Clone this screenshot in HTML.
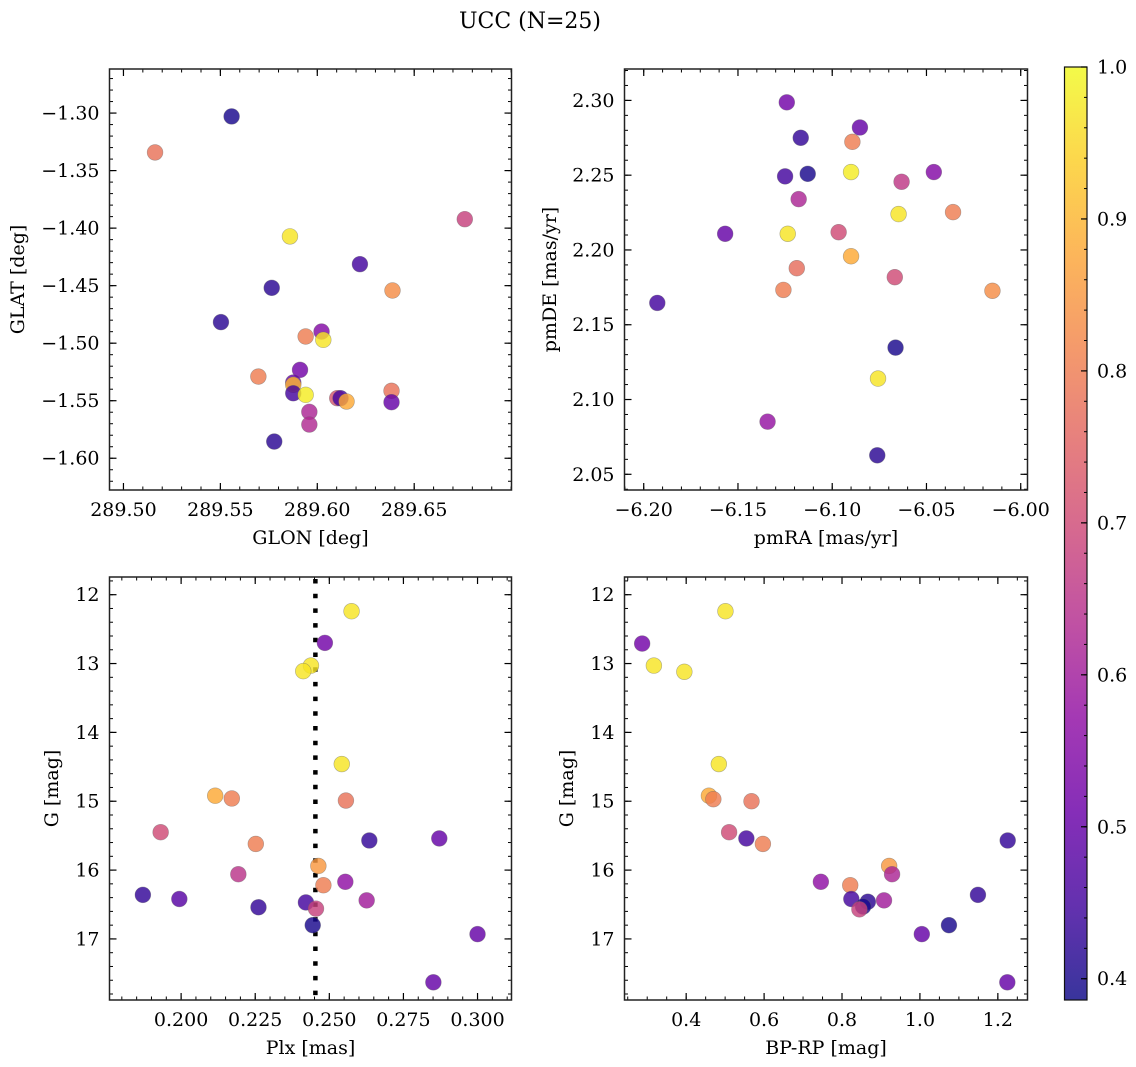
<!DOCTYPE html>
<html><head><meta charset="utf-8"><style>
html,body{margin:0;padding:0;background:#fff;}
svg{display:block;font-family:"DejaVu Serif","Liberation Serif",serif;}
</style></head><body>
<svg id="fig" width="1136" height="1067" viewBox="0 0 1136 1067" xmlns="http://www.w3.org/2000/svg">
<text x="530" y="28" font-size="22" text-anchor="middle">UCC (N=25)</text>
</svg>
<script>
// ---- data ----
const glon = [289.5558,289.5163,289.6761,289.5859,289.6220,289.5765,289.6388,289.5503,289.6022,289.5940,289.6031,289.5911,289.5696,289.5876,289.5876,289.5876,289.5940,289.6103,289.6120,289.6151,289.6383,289.6383,289.5959,289.5959,289.5778];
const glat = [-1.3029,-1.3342,-1.3922,-1.4072,-1.4313,-1.4519,-1.4542,-1.4817,-1.4899,-1.4942,-1.4971,-1.5232,-1.5290,-1.5342,-1.5362,-1.5435,-1.5449,-1.5478,-1.5478,-1.5507,-1.5414,-1.5513,-1.5597,-1.5707,-1.5855];
const probP1 = [0.40,0.78,0.68,0.97,0.45,0.42,0.83,0.42,0.55,0.80,0.97,0.52,0.80,0.50,0.90,0.45,0.98,0.72,0.45,0.88,0.78,0.50,0.62,0.63,0.42];

const pmra = [-6.1241,-6.0853,-6.1167,-6.0893,-6.1250,-6.1130,-6.0900,-6.0461,-6.0632,-6.1178,-6.0648,-6.0359,-6.1568,-6.1236,-6.0966,-6.0900,-6.1188,-6.0668,-6.1259,-6.0150,-6.1928,-6.0664,-6.0757,-6.1343,-6.0761];
const pmde = [2.2987,2.2819,2.2750,2.2723,2.2492,2.2509,2.2521,2.2521,2.2456,2.2340,2.2240,2.2253,2.2108,2.2108,2.2119,2.1958,2.1878,2.1818,2.1733,2.1727,2.1646,2.1347,2.1140,2.0852,2.0627];
const probP2 = [0.52,0.50,0.43,0.80,0.45,0.40,0.98,0.55,0.66,0.62,0.97,0.80,0.50,0.97,0.70,0.88,0.77,0.70,0.80,0.83,0.45,0.40,0.97,0.58,0.42];

const plx = [0.2575,0.2485,0.2438,0.2412,0.2542,0.2115,0.2171,0.2556,0.1931,0.2252,0.2635,0.2871,0.2463,0.2193,0.2480,0.2554,0.1871,0.1994,0.2626,0.2421,0.2261,0.2455,0.2444,0.3000,0.2851];
const gmagP3 = [12.24,12.70,13.03,13.11,14.46,14.92,14.96,14.99,15.45,15.62,15.57,15.54,15.94,16.06,16.22,16.17,16.36,16.42,16.44,16.47,16.54,16.56,16.80,16.93,17.63];
const probP3 = [0.97,0.52,0.97,0.97,0.97,0.88,0.80,0.78,0.70,0.80,0.43,0.50,0.85,0.65,0.80,0.57,0.43,0.48,0.60,0.45,0.43,0.68,0.40,0.50,0.50];
const plxMedian = [0.2453];

const bprp = [0.5008,0.2870,0.3171,0.3953,0.4838,0.4584,0.4697,0.5677,0.5102,0.5545,0.5969,1.2253,0.9210,0.9285,0.7457,0.8211,0.8239,0.8663,0.8541,0.8447,0.9078,1.1489,1.0745,1.0048,1.2243];
const gmagP4 = [12.24,12.71,13.03,13.12,14.46,14.92,14.97,15.00,15.45,15.54,15.62,15.57,15.94,16.06,16.17,16.22,16.42,16.46,16.53,16.57,16.44,16.36,16.80,16.93,17.63];
const probP4 = [0.97,0.52,0.97,0.97,0.97,0.88,0.80,0.78,0.70,0.45,0.80,0.43,0.85,0.62,0.57,0.80,0.45,0.42,0.40,0.68,0.60,0.43,0.40,0.50,0.50];

const p1XTicks = [289.50,289.55,289.60,289.65];
const p1XLabels = ["289.50","289.55","289.60","289.65"];
const p1YTicks = [-1.30,-1.35,-1.40,-1.45,-1.50,-1.55,-1.60];
const p1YLabels = ["−1.30","−1.35","−1.40","−1.45","−1.50","−1.55","−1.60"];
const p2XTicks = [-6.20,-6.15,-6.10,-6.05,-6.00];
const p2XLabels = ["−6.20","−6.15","−6.10","−6.05","−6.00"];
const p2YTicks = [2.30,2.25,2.20,2.15,2.10,2.05];
const p2YLabels = ["2.30","2.25","2.20","2.15","2.10","2.05"];
const p3XTicks = [0.200,0.225,0.250,0.275,0.300];
const p3XLabels = ["0.200","0.225","0.250","0.275","0.300"];
const gTicks = [12,13,14,15,16,17];
const gLabels = ["12","13","14","15","16","17"];
const p4XTicks = [0.4,0.6,0.8,1.0,1.2];
const p4XLabels = ["0.4","0.6","0.8","1.0","1.2"];
const cbTicks = [0.4,0.5,0.6,0.7,0.8,0.9,1.0];
const cbLabels = ["0.4","0.5","0.6","0.7","0.8","0.9","1.0"];
const cbRange = [0.386,1.0];

// ---- rendering ----
const NS="http://www.w3.org/2000/svg";
const svg=document.getElementById('fig');
const FS=19;
function mk(tag,attrs,parent){const e=document.createElementNS(NS,tag);for(const k in attrs)e.setAttribute(k,attrs[k]);(parent||svg).appendChild(e);return e;}
const plasma=[[13,8,135],[65,4,157],[106,0,168],[143,13,164],[177,42,144],[204,71,120],[225,100,98],[242,132,75],[252,166,54],[252,206,37],[240,249,33]];
function cmap(t){t=Math.max(0,Math.min(1,t));const f=t*10,i=Math.min(9,Math.floor(f)),r=f-i;const a=plasma[i],b=plasma[i+1];
return 'rgb('+[0,1,2].map(k=>Math.round(a[k]+(b[k]-a[k])*r)).join(',')+')';}
function cnorm(v){return (v-cbRange[0])/(cbRange[1]-cbRange[0]);}

function panel(cfg){
  const g=mk('g',{});
  
  
  const l=cfg.box.l,t=cfg.box.t,r=cfg.box.r,b=cfg.box.b;
  const sx=v=>l+(v-cfg.xd[0])/(cfg.xd[1]-cfg.xd[0])*(r-l);
  const sy=v=>t+(v-cfg.yd[0])/(cfg.yd[1]-cfg.yd[0])*(b-t);
  const xmin=Math.min(cfg.xd[0],cfg.xd[1]),xmax=Math.max(cfg.xd[0],cfg.xd[1]);
  for(let k=Math.ceil(xmin/cfg.xm-1e-6);k*cfg.xm<=xmax+1e-9;k++){const x=sx(k*cfg.xm);
    const m1=mk('line',{x1:x,x2:x,y1:b,y2:b-3.5,stroke:'#000','stroke-width':1},g);
    const m2=mk('line',{x1:x,x2:x,y1:t,y2:t+3.5,stroke:'#000','stroke-width':1},g);}
  const ymin=Math.min(cfg.yd[0],cfg.yd[1]),ymax=Math.max(cfg.yd[0],cfg.yd[1]);
  for(let k=Math.ceil(ymin/cfg.ym-1e-6);k*cfg.ym<=ymax+1e-9;k++){const y=sy(k*cfg.ym);
    const m1=mk('line',{x1:l,x2:l+3.5,y1:y,y2:y,stroke:'#000','stroke-width':1},g);
    const m2=mk('line',{x1:r,x2:r-3.5,y1:y,y2:y,stroke:'#000','stroke-width':1},g);}
  cfg.xt.forEach((v,i)=>{const x=sx(v);
    const a=mk('line',{x1:x,x2:x,y1:b,y2:b-7,stroke:'#000','stroke-width':1.2},g);
    const c=mk('line',{x1:x,x2:x,y1:t,y2:t+7,stroke:'#000','stroke-width':1.2},g);
    const tx=mk('text',{x:x,y:b+26,'font-size':FS,'text-anchor':'middle'},g);tx.textContent=cfg.xl[i];
    });
  cfg.yt.forEach((v,i)=>{const y=sy(v);
    const a=mk('line',{x1:l,x2:l+7,y1:y,y2:y,stroke:'#000','stroke-width':1.2},g);
    const c=mk('line',{x1:r,x2:r-7,y1:y,y2:y,stroke:'#000','stroke-width':1.2},g);
    const tx=mk('text',{x:l-10,y:y+6.5,'font-size':FS,'text-anchor':'end'},g);tx.textContent=cfg.yl[i];
    });
  if(cfg.vline){cfg.vline.forEach(v=>{const x=sx(v);
    const ln=mk('line',{x1:x,x2:x,y1:t+2,y2:b,stroke:'#000','stroke-width':4.5,'stroke-dasharray':'4.5 10.2'},g);
    });}
  cfg.x.forEach((xv,i)=>{
    const c=mk('circle',{cx:sx(xv),cy:sy(cfg.y[i]),r:7.9,fill:cmap(cnorm(cfg.c[i])),'fill-opacity':0.82,stroke:'#666','stroke-opacity':0.5,'stroke-width':0.6},g);
    
    });
  const fr=mk('rect',{x:l,y:t,width:r-l,height:b-t,fill:'none',stroke:'#222','stroke-width':1.5},g);
  
  const xl=mk('text',{x:(l+r)/2,y:b+54,'font-size':FS,'text-anchor':'middle'},g);xl.textContent=cfg.xlab;
  
  const yx=cfg.ylx, yy=(t+b)/2;
  const yl=mk('text',{x:yx,y:yy,'font-size':FS,'text-anchor':'middle',transform:'rotate(-90 '+yx+' '+yy+')'},g);yl.textContent=cfg.ylab;
  
}
const topBox={t:69,b:490},bottomBox={t:577,b:1000};
panel({name:'panel-glon-glat',box:{l:109.5,r:511.5,t:topBox.t,b:topBox.b},xd:[289.4928,289.7002],yd:[-1.2617,-1.6276],xm:0.01,ym:0.01,
  xt:p1XTicks,xl:p1XLabels,yt:p1YTicks,yl:p1YLabels,x:glon,y:glat,c:probP1,xlab:'GLON [deg]',ylab:'GLAT [deg]',ylx:24});
panel({name:'panel-pmra-pmde',box:{l:624.5,r:1027.5,t:topBox.t,b:topBox.b},xd:[-6.2102,-5.9964],yd:[2.3210,2.0395],xm:0.01,ym:0.01,
  xt:p2XTicks,xl:p2XLabels,yt:p2YTicks,yl:p2YLabels,x:pmra,y:pmde,c:probP2,xlab:'pmRA [mas/yr]',ylab:'pmDE [mas/yr]',ylx:556});
panel({name:'panel-plx-g',box:{l:109.5,r:511.5,t:bottomBox.t,b:bottomBox.b},xd:[0.17584,0.31146],yd:[11.743,17.887],xm:0.005,ym:0.2,
  xt:p3XTicks,xl:p3XLabels,yt:gTicks,yl:gLabels,x:plx,y:gmagP3,c:probP3,xlab:'Plx [mas]',ylab:'G [mag]',ylx:58,vline:plxMedian});
panel({name:'panel-bprp-g',box:{l:624.5,r:1027.5,t:bottomBox.t,b:bottomBox.b},xd:[0.2417,1.2761],yd:[11.743,17.887],xm:0.05,ym:0.2,
  xt:p4XTicks,xl:p4XLabels,yt:gTicks,yl:gLabels,x:bprp,y:gmagP4,c:probP4,xlab:'BP-RP [mag]',ylab:'G [mag]',ylx:573});

// colorbar
const cbG=mk('g',{});


const defs=mk('defs',{},cbG);
const lg=mk('linearGradient',{id:'pl',x1:0,y1:1,x2:0,y2:0},defs);
plasma.forEach((c,i)=>{mk('stop',{offset:i/10,'stop-color':'rgb('+c.join(',')+')','stop-opacity':0.82},lg);});
const cbx=1064.5,cbw=22.5,cbt=67,cbb=1000;
const cr=mk('rect',{x:cbx,y:cbt,width:cbw,height:cbb-cbt,fill:'url(#pl)',stroke:'#111','stroke-width':1.2},cbG);

const cbY=v=>cbb-(v-cbRange[0])/(cbRange[1]-cbRange[0])*(cbb-cbt);
for(let k=20;k<=50;k++){const y=cbY(k*0.02);
  const m=mk('line',{x1:cbx+cbw,x2:cbx+cbw-3,y1:y,y2:y,stroke:'#000','stroke-width':1},cbG);
  }
cbTicks.forEach((v,i)=>{const y=cbY(v);
  const m=mk('line',{x1:cbx+cbw,x2:cbx+cbw-6,y1:y,y2:y,stroke:'#000','stroke-width':1.2},cbG);
  
  const tx=mk('text',{x:cbx+cbw+10,y:y+6.5,'font-size':FS},cbG);tx.textContent=cbLabels[i];
  });
</script>
</body></html>
